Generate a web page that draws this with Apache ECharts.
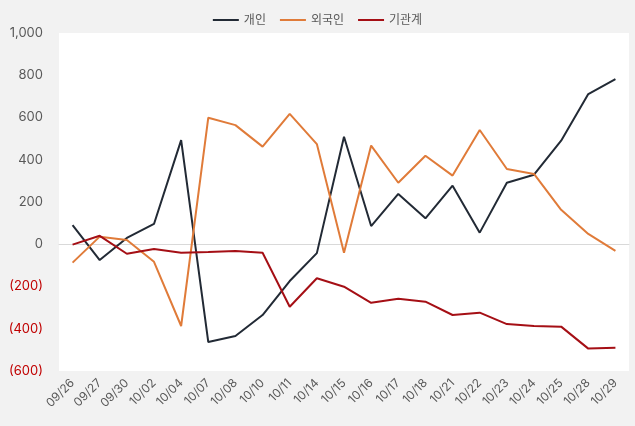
<!DOCTYPE html>
<html><head><meta charset="utf-8">
<script src="https://cdn.jsdelivr.net/npm/echarts@6/dist/echarts.min.js"></script>
<style>html,body{margin:0;padding:0;background:#f2f2f2;}#c{width:635px;height:426px;}</style>
</head><body><div id="c"></div>
<script>
const categories = ['09/26','09/27','09/30','10/02','10/04','10/07','10/08','10/10','10/11','10/14','10/15','10/16','10/17','10/18','10/21','10/22','10/23','10/24','10/25','10/28','10/29'];
const individual = [91,-75,30,96,493,-463,-434,-335,-174,-42,509,86,238,123,277,55,291,329,490,711,782];
const foreign = [-87,36,20,-83,-387,599,564,462,617,474,-40,467,291,419,325,541,356,333,163,49,-31];
const institution = [-2,40,-45,-22,-40,-37,-32,-40,-296,-161,-201,-277,-258,-272,-335,-324,-378,-387,-390,-494,-490];
const seriesNames = ['개인','외국인','기관계'];
const colors = ['#222a35','#e07b39','#a50f15'];

const chart = echarts.init(document.getElementById('c'));
const fontFamily = 'Inter, "Noto Sans CJK KR", sans-serif';
chart.setOption({
  backgroundColor: '#f2f2f2',
  textStyle: {fontFamily: fontFamily},
  color: colors,
  legend: {
    top: 9, left: 'center', itemWidth: 26, itemHeight: 2, itemGap: 14,
    icon: 'rect',
    textStyle: {color: '#595959', fontSize: 12, fontFamily: fontFamily},
    data: seriesNames
  },
  grid: {left: 59, right: 6, top: 33, bottom: 55, show: true, backgroundColor: '#ffffff', borderWidth: 0},
  xAxis: {
    type: 'category', data: categories, boundaryGap: true,
    axisLine: {onZero: true, lineStyle: {color: '#d9d9d9', width: 1}},
    axisTick: {show: false},
    axisLabel: {rotate: 45, color: '#595959', fontSize: 12, margin: 10, interval: 0, fontFamily: fontFamily}
  },
  yAxis: {
    type: 'value', min: -600, max: 1000, interval: 200,
    splitLine: {show: false}, axisLine: {show: false}, axisTick: {show: false},
    axisLabel: {
      margin: 16, fontSize: 13, fontFamily: fontFamily,
      formatter: function (v) {
        if (v < 0) return '{neg|(' + Math.abs(v).toLocaleString('en-US') + ')}';
        return '{pos|' + v.toLocaleString('en-US') + '}';
      },
      rich: {
        neg: {color: '#c00000', fontSize: 13, fontFamily: fontFamily},
        pos: {color: '#595959', fontSize: 13, fontFamily: fontFamily}
      }
    }
  },
  series: [
    {name: seriesNames[0], type: 'line', data: individual, symbol: 'none', lineStyle: {width: 2, color: colors[0]}, itemStyle: {color: colors[0]}},
    {name: seriesNames[1], type: 'line', data: foreign, symbol: 'none', lineStyle: {width: 2, color: colors[1]}, itemStyle: {color: colors[1]}},
    {name: seriesNames[2], type: 'line', data: institution, symbol: 'none', lineStyle: {width: 2, color: colors[2]}, itemStyle: {color: colors[2]}}
  ],
  animation: false
});
</script></body></html>
